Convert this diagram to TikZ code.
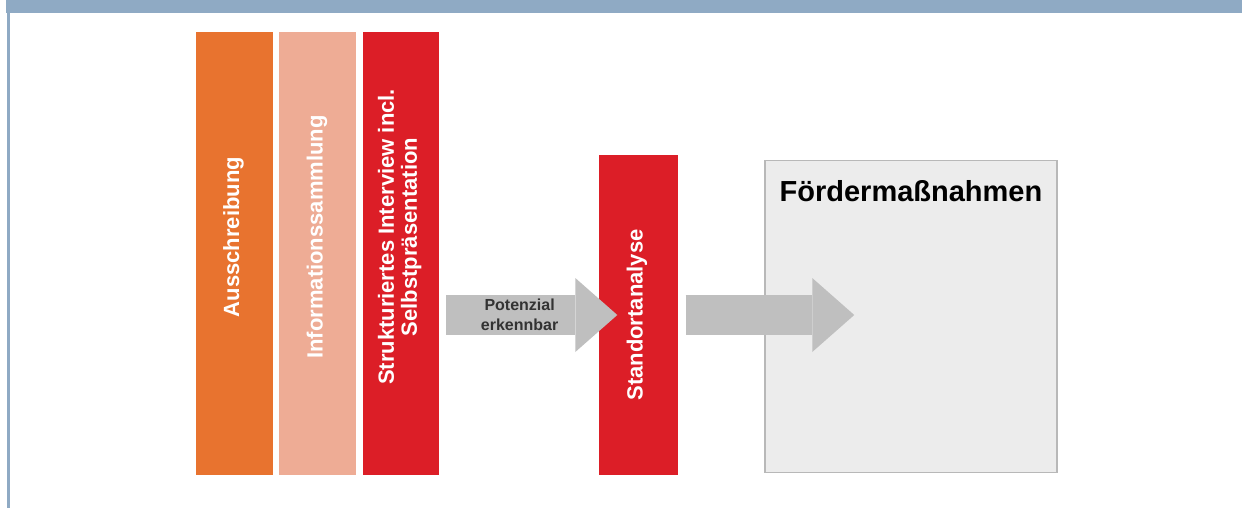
\documentclass[tikz,border=0pt]{standalone}
\usepackage{fontspec}
\usepackage{graphicx}
\setmainfont{Liberation Sans}
\usetikzlibrary{positioning,arrows.meta}

\definecolor{headblue}{HTML}{8FAAC4}
\definecolor{barorange}{HTML}{E8732F}
\definecolor{barsalmon}{HTML}{EEAC95}
\definecolor{barred}{HTML}{DC1E27}
\definecolor{arrowgray}{HTML}{BFBFBF}
\definecolor{boxfill}{HTML}{ECECEC}
\definecolor{boxgray}{HTML}{B8B8B8}

\newcommand{\vtext}[2][0pt]{\rotatebox{90}{\hspace{#1}\begin{tabular}{@{}c@{}}#2\end{tabular}}}

\tikzstyle{bar} = [rectangle, inner sep=0pt, minimum width=77pt,
    minimum height=443pt, text=white, font=\fontsize{22}{23}\selectfont\bfseries]
\tikzstyle{flow} = [draw=arrowgray, line width=40pt,
    -{Triangle[width=74pt,length=42pt,line width=0pt]}]
\tikzstyle{arrowtext} = [align=center, text=black!80,
    font=\fontsize{16}{20}\selectfont\bfseries]

\begin{document}
\begin{tikzpicture}[x=1pt, y=-1pt]
    \useasboundingbox (0,0) rectangle (1242,508);
    % frame
    \fill[headblue] (6,0) rectangle (1242,13);
    \draw[headblue, line width=3pt] (8.5,13) -- (8.5,508);

    % first phase
    \node [bar, fill=barorange] (aus) at (234.5,253.5) {\vtext[33pt]{Ausschreibung}};
    \node [bar, fill=barsalmon, right=6pt of aus] (info) {\vtext[33pt]{Informationssammlung}};
    \node [bar, fill=barred, right=6pt of info, minimum width=76pt] (strukt)
        {\vtext[33pt]{Strukturiertes Interview incl.\\Selbstpräsentation}};

    % second phase
    \node [bar, fill=barred, minimum width=79pt, minimum height=320pt] (standort)
        at (638,315) {\vtext{Standortanalyse}};
    \node [draw=boxgray, fill=boxfill, line width=1.5pt, minimum width=292pt,
        minimum height=312pt] (foerder) at (911,316.5) {};
    \node [inner sep=0pt, font=\fontsize{29}{30}\selectfont\bfseries,
        below=21pt of foerder.north] (foerdertitle) {Fördermaßnahmen};

    \draw [flow] ([xshift=7pt]strukt.east |- standort.west)
        -- node[arrowtext, pos=0.43] (potenzial) {Potenzial\\erkennbar}
        ([xshift=19pt]standort.west);
    \draw [flow] ([xshift=8pt]standort.east) -- ([xshift=90pt]foerder.west |- standort.east);
\end{tikzpicture}
\end{document}
